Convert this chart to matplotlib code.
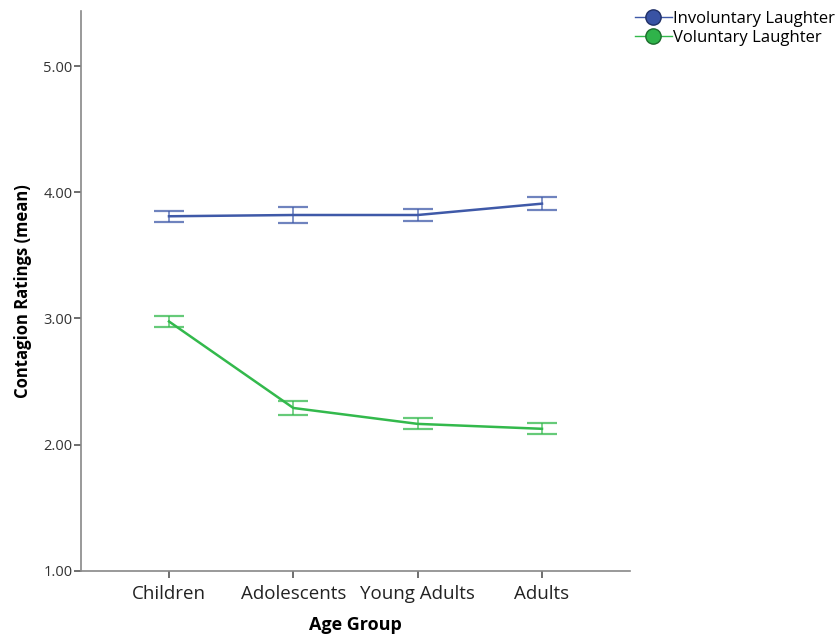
import matplotlib.pyplot as plt
from matplotlib.lines import Line2D

# data
age_groups = ['Children', 'Adolescents', 'Young Adults', 'Adults']
involuntary_mean = [3.81, 3.82, 3.82, 3.91]
involuntary_err = [0.044, 0.066, 0.046, 0.049]
voluntary_mean = [2.976, 2.29, 2.164, 2.125]
voluntary_err = [0.046, 0.056, 0.044, 0.044]
y_ticks = [1.0, 2.0, 3.0, 4.0, 5.0]

blue = '#3f59a8'
green = '#33b94c'

plt.rcParams['font.family'] = ['Open Sans', 'DejaVu Sans']

fig = plt.figure(figsize=(8.39, 6.39), dpi=100)
ax = fig.add_axes([0.0962, 0.1069, 0.655, 0.8764])

x = list(range(len(age_groups)))

# lines
ax.plot(x, involuntary_mean, color=blue, lw=1.8, zorder=3)
ax.plot(x, voluntary_mean, color=green, lw=1.8, zorder=3)

# error bars (lighter caps like the original)
ax.errorbar(x, involuntary_mean, yerr=involuntary_err, fmt='none',
            ecolor=blue, elinewidth=1.2, capsize=11, capthick=1.6, alpha=0.75, zorder=2)
ax.errorbar(x, voluntary_mean, yerr=voluntary_err, fmt='none',
            ecolor=green, elinewidth=1.2, capsize=11, capthick=1.6, alpha=0.75, zorder=2)

ax.set_xlim(-0.71, 3.71)
ax.set_ylim(1.0, 5.44)
ax.set_xticks(x)
ax.set_xticklabels(age_groups, fontsize=13.5, color='#222222')
ax.set_yticks(y_ticks)
ax.set_yticklabels([f'{v:.2f}' for v in y_ticks], fontsize=10.5, color='#333333')

for side in ['top', 'right']:
    ax.spines[side].set_visible(False)
for side in ['left', 'bottom']:
    ax.spines[side].set_color('#888888')
    ax.spines[side].set_linewidth(1.2)
ax.tick_params(axis='both', direction='out', color='#555555', width=1.2, length=5)
ax.tick_params(axis='x', pad=5)
ax.tick_params(axis='y', pad=1)

ax.set_xlabel('Age Group', fontsize=13, fontweight='bold', labelpad=10)
ax.set_ylabel('Contagion Ratings (mean)', fontsize=12, fontweight='bold', labelpad=8)

# legend outside at top right
handles = [
    Line2D([], [], color=blue, lw=1, marker='o', markersize=11,
           markerfacecolor='#3953a4', markeredgecolor='#1f2f66'),
    Line2D([], [], color=green, lw=1, marker='o', markersize=11,
           markerfacecolor='#2fb34a', markeredgecolor='#1b6b2b'),
]
fig.legend(handles, ['Involuntary Laughter', 'Voluntary Laughter'],
           loc='upper left', bbox_to_anchor=(0.745, 0.998), frameon=False,
           fontsize=12, handlelength=2.2, handletextpad=0.1,
           labelspacing=0.15, borderaxespad=0.2)

fig.savefig('out.png', dpi=100)
